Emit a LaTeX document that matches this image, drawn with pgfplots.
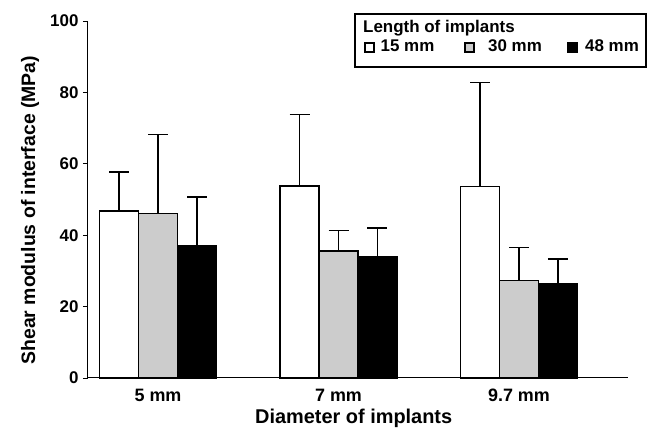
\documentclass[border=0pt]{standalone}
\usepackage{fontspec}
\setmainfont{Liberation Sans}
\usepackage{pgfplots}
\pgfplotsset{compat=1.18}
\begin{document}
\begin{tikzpicture}[x=1bp,y=1bp]
\useasboundingbox (-88,-57) rectangle (569,378);
\begin{axis}[
  at={(0,0)}, anchor=south west,
  scale only axis, width=540bp, height=357bp,
  xmin=-0.388, xmax=2.604, ymin=0, ymax=100,
  axis x line=bottom, axis y line=left,
  axis line style={-, line width=1bp},
  clip=false,
  ytick={0,20,...,100},
  xtick={0,1,2}, xticklabels={5 mm,7 mm,9.7 mm},
  major x tick style={draw=none},
  major y tick style={line width=0.8bp, black},
  tick align=outside, major tick length=5bp,
  yticklabel style={font=\fontsize{17}{19}\selectfont\bfseries, anchor=east, xshift=-1bp},
  /pgf/number format/assume math mode=true,
  xticklabel style={font=\fontsize{18}{20}\selectfont\bfseries, anchor=base, yshift=-19bp},
  xlabel={Diameter of implants},
  ylabel={Shear modulus of interface (MPa)},
  every axis x label/.style={at={(axis description cs:0.492,0)}, anchor=base, yshift=-46bp, font=\fontsize{20}{22}\selectfont\bfseries},
  every axis y label/.style={at={(axis description cs:-0.107,0.47)}, rotate=90, anchor=center, font=\fontsize{19.5}{22}\selectfont\bfseries},
  ybar, bar width=0.216,
  every axis plot/.append style={draw=black, line width=1.3bp},
  error bars/y dir=plus, error bars/y explicit,
  error bars/error bar style={line width=1.3bp, black},
  error bars/error mark options={rotate=90, black, line width=1.3bp, mark size=10bp},
]
\addplot[fill=white, bar shift=-0.216] coordinates {(0,46.8) +- (0,10.9) (1,53.8) +- (0,20.0) (2,53.6) +- (0,29.1)};
\addplot[fill=gray!40, bar shift=0] coordinates {(0,46.0) +- (0,22.3) (1,35.6) +- (0,5.7) (2,27.3) +- (0,9.2)};
\addplot[fill=black, bar shift=0.216] coordinates {(0,37.0) +- (0,13.7) (1,34.0) +- (0,8.0) (2,26.5) +- (0,6.8)};
\end{axis}
% legend
\draw[line width=1.2bp] (267,364) rectangle (558,311);
\node[anchor=base west, inner sep=0pt, font=\fontsize{17}{19}\selectfont\bfseries] at (275,345) {Length of implants};
\draw[line width=1.1bp, fill=white] (277,335) rectangle (286,326);
\draw[line width=1.1bp, fill=gray!40] (377,335) rectangle (386,326);
\draw[line width=1.1bp, fill=black] (480,335) rectangle (489,326);
\node[anchor=base west, inner sep=0pt, font=\fontsize{17}{19}\selectfont\bfseries] at (292.5,326) {15 mm};
\node[anchor=base west, inner sep=0pt, font=\fontsize{17}{19}\selectfont\bfseries] at (400,326) {30 mm};
\node[anchor=base west, inner sep=0pt, font=\fontsize{17}{19}\selectfont\bfseries] at (497,326) {48 mm};
\end{tikzpicture}
\end{document}
